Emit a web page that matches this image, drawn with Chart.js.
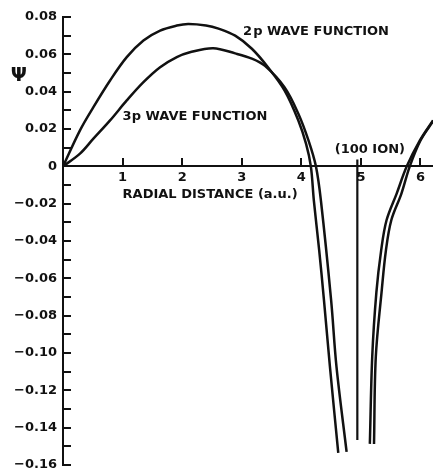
<!DOCTYPE html>
<html>
<head>
<meta charset="utf-8">
<script src="https://cdn.jsdelivr.net/npm/chart.js@4.4.1/dist/chart.umd.min.js"></script>
<style>
  html, body { margin: 0; padding: 0; background: #fff; }
  #wrap { width: 433px; height: 472px; }
</style>
</head>
<body>
<div id="wrap"><canvas id="chart"></canvas></div>
<script>
'use strict';

/* ── Data (x in a.u., y = Ψ) ───────────────────────────────────── */
const wave2pX = [0, 0.285, 0.51, 0.79, 1.07, 1.35, 1.63, 1.91, 2.10, 2.40, 2.61, 2.89, 3.17, 3.44, 3.72, 3.95, 4.08, 4.16, 4.21, 4.30, 4.38, 4.48, 4.62];
const wave2pY = [0, 0.0193, 0.0317, 0.046, 0.0585, 0.0674, 0.0727, 0.0754, 0.0763, 0.0755, 0.0738, 0.070, 0.063, 0.0531, 0.0406, 0.0246, 0.012, 0, -0.0182, -0.045, -0.0717, -0.1073, -0.1535];

const wave3pX = [0, 0.285, 0.51, 0.79, 1.07, 1.35, 1.63, 1.91, 2.13, 2.52, 2.89, 3.17, 3.39, 3.72, 3.95, 4.12, 4.245, 4.33, 4.50, 4.59, 4.76];
const wave3pY = [0, 0.0068, 0.0148, 0.0246, 0.0353, 0.0451, 0.0531, 0.0585, 0.0611, 0.0633, 0.0605, 0.0577, 0.0538, 0.0423, 0.0282, 0.0139, 0, -0.0187, -0.0717, -0.1073, -0.153];

// branches coming back up past the ion
const back2pX = [5.15, 5.19, 5.26, 5.34, 5.43, 5.60, 5.77, 5.99, 6.21];
const back2pY = [-0.1487, -0.102, -0.0674, -0.045, -0.0289, -0.0146, 0, 0.0139, 0.0246];
const back3pX = [5.22, 5.25, 5.35, 5.42, 5.51, 5.68, 5.82, 6.00, 6.22];
const back3pY = [-0.1487, -0.102, -0.0663, -0.045, -0.0289, -0.0146, 0, 0.0139, 0.0246];

// position of the neighbouring ion
const ionX = [4.94, 4.94];
const ionY = [0.0036, -0.1466];

const xTickValues = [1, 2, 3, 4, 5, 6];
const xTickLabels = ['1', '2', '3', '4', '5', '6'];

const yTickValues = [-0.16, -0.15, -0.14, -0.13, -0.12, -0.11, -0.10, -0.09, -0.08, -0.07, -0.06, -0.05, -0.04, -0.03, -0.02, -0.01, 0, 0.01, 0.02, 0.03, 0.04, 0.05, 0.06, 0.07, 0.08];
const yTickLabels = ['\u22120.16', '', '\u22120.14', '', '\u22120.12', '', '\u22120.10', '', '\u22120.08', '', '\u22120.06', '', '\u22120.04', '', '\u22120.02', '', '0', '', '0.02', '', '0.04', '', '0.06', '', '0.08'];

// text placed in data units
const noteTexts = ['2\u200Ap WAVE FUNCTION', '3p WAVE FUNCTION', 'RADIAL DISTANCE (a.u.)', '(100 ION)'];
const noteX = [3.02, 1.0, 1.0, 4.56];
const noteY = [0.0722, 0.0267, -0.0152, 0.0091];

const INK = '#111';
const FONT = "'DejaVu Sans', sans-serif";

const toPoints = (xs, ys) => xs.map((x, i) => ({ x, y: ys[i] }));

const curve = (label, xs, ys) => ({
    label,
    data: toPoints(xs, ys),
    showLine: true,
    borderColor: INK,
    borderWidth: 2.5,
    pointRadius: 0,
    tension: 0.35,
    fill: false
});

/* ── Free text on the plot ──────────────────────────────────────── */
const notesPlugin = {
    id: 'notes',
    afterDraw(chart) {
        const { ctx, scales: { x, y } } = chart;
        ctx.save();
        ctx.fillStyle = INK;
        ctx.textBaseline = 'middle';
        ctx.textAlign = 'left';
        ctx.font = 'bold 13px ' + FONT;
        noteTexts.forEach((t, i) => {
            ctx.fillText(t, x.getPixelForValue(noteX[i]), y.getPixelForValue(noteY[i]));
        });
        // Ψ axis symbol
        ctx.textAlign = 'center';
        ctx.font = 'bold 19px ' + FONT;
        ctx.fillText('\u03A8', x.getPixelForValue(-0.74), y.getPixelForValue(0.0482));
        ctx.restore();
    }
};

new Chart(document.getElementById('chart'), {
    type: 'scatter',
    data: {
        datasets: [
            curve('2p', wave2pX, wave2pY),
            curve('3p', wave3pX, wave3pY),
            curve('2p back', back2pX, back2pY),
            curve('3p back', back3pX, back3pY),
            {
                label: 'ion',
                data: toPoints(ionX, ionY),
                showLine: true,
                borderColor: INK,
                borderWidth: 2.2,
                pointRadius: 0
            }
        ]
    },
    options: {
        responsive: true,
        maintainAspectRatio: false,
        animation: false,
        layout: { padding: { top: 17, bottom: 7, left: 0, right: 0 } },
        plugins: { legend: { display: false }, tooltip: { enabled: false } },
        scales: {
            x: {
                type: 'linear',
                min: 0,
                max: 6.21,
                position: { y: 0 },
                afterBuildTicks: s => { s.ticks = xTickValues.map(v => ({ value: v })); },
                afterFit: s => { s.paddingLeft = 0; s.paddingRight = 0; s.paddingTop = 0; s.paddingBottom = 0; },
                ticks: {
                    color: INK,
                    font: { family: FONT, size: 13, weight: 'bold' },
                    padding: 12,
                    maxRotation: 0,
                    callback: (v, i) => xTickLabels[i]
                },
                grid: { drawOnChartArea: false, drawTicks: true, tickLength: -9, color: INK, lineWidth: 2 },
                border: { display: true, color: INK, width: 2 }
            },
            y: {
                type: 'linear',
                min: -0.16,
                max: 0.08,
                afterBuildTicks: s => { s.ticks = yTickValues.map(v => ({ value: v })); },
                afterFit: s => { s.width = 63; s.paddingTop = 0; s.paddingBottom = 0; },
                ticks: {
                    color: INK,
                    font: { family: FONT, size: 13, weight: 'bold' },
                    padding: 14,
                    autoSkip: false,
                    callback: (v, i) => yTickLabels[i]
                },
                grid: { drawOnChartArea: false, drawTicks: true, tickLength: -8, color: INK, lineWidth: 2 },
                border: { display: true, color: INK, width: 2 }
            }
        }
    },
    plugins: [notesPlugin]
});
</script>
</body>
</html>
